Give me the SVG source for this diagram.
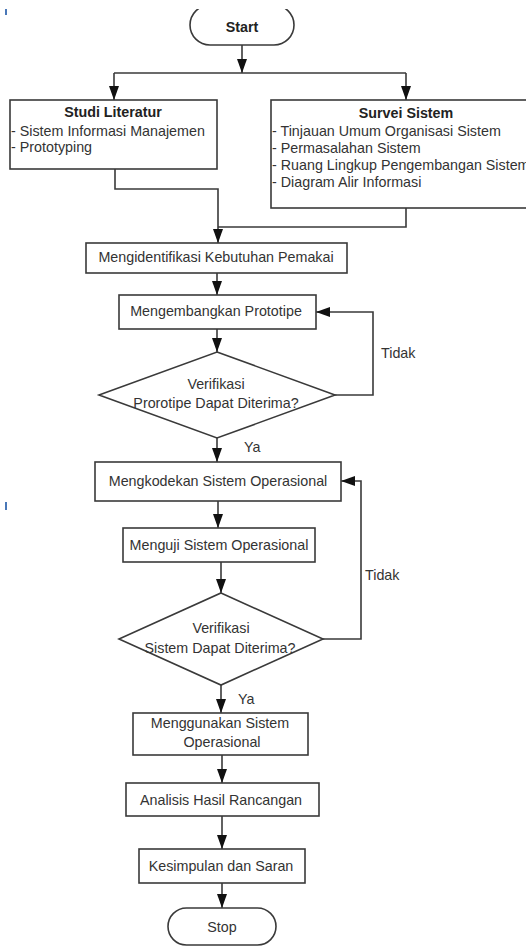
<svg xmlns="http://www.w3.org/2000/svg" width="526" height="947" viewBox="0 0 526 947">
<style>
.box{fill:#fff;stroke:#3a3a3a;stroke-width:1.6}
.ln{fill:none;stroke:#3a3a3a;stroke-width:1.6}
.t{font-family:"Liberation Sans",Arial,sans-serif;font-size:14.3px;fill:#333}
.c{text-anchor:middle}
.b{font-weight:bold;fill:#222}
.mk{fill:#4a78b8}
</style>
<defs>
<marker id="ah" viewBox="0 0 14 10" markerUnits="userSpaceOnUse" markerWidth="14" markerHeight="10" refX="14" refY="5" orient="auto">
<path d="M0,0 L14,5 L0,10 z" fill="#111"/>
</marker>
<clipPath id="topclip"><rect x="0" y="9" width="526" height="938"/></clipPath>
</defs>
<rect width="526" height="947" fill="#fff"/>
<g id="marks">
<rect class="mk" x="5" y="9" width="2" height="6"/>
<rect class="mk" x="268" y="9" width="8" height="4"/>
<rect class="mk" x="5" y="502" width="2" height="8"/>
</g>
<g id="connectors">
<path class="ln" d="M242 45 V73" marker-end="url(#ah)"/>
<path class="ln" d="M114 73 H406"/>
<path class="ln" d="M114 73 V100" marker-end="url(#ah)"/>
<path class="ln" d="M406 73 V100" marker-end="url(#ah)"/>
<path class="ln" d="M115 169 V189 H218 V243" marker-end="url(#ah)"/>
<path class="ln" d="M406 208 V227 H218"/>
<path class="ln" d="M217 273 V295" marker-end="url(#ah)"/>
<path class="ln" d="M217 329 V352" marker-end="url(#ah)"/>
<path class="ln" d="M335 395 H373 V312 H316" marker-end="url(#ah)"/>
<path class="ln" d="M217 438 V462" marker-end="url(#ah)"/>
<path class="ln" d="M218 501 V528" marker-end="url(#ah)"/>
<path class="ln" d="M221 562 V593" marker-end="url(#ah)"/>
<path class="ln" d="M323 639 H361 V481 H341" marker-end="url(#ah)"/>
<path class="ln" d="M221 685 V713" marker-end="url(#ah)"/>
<path class="ln" d="M222 755 V783" marker-end="url(#ah)"/>
<path class="ln" d="M222 816 V849" marker-end="url(#ah)"/>
<path class="ln" d="M222 883 V908" marker-end="url(#ah)"/>
<text class="t" x="381" y="358">Tidak</text>
<text class="t" x="244" y="452">Ya</text>
<text class="t" x="365" y="580">Tidak</text>
<text class="t" x="238" y="704">Ya</text>
</g>
<g id="start">
<rect class="box" x="190" y="5" width="104" height="40" rx="20" clip-path="url(#topclip)"/>
<text class="t c b" x="242" y="32">Start</text>
</g>
<g id="studi">
<rect class="box" x="10" y="100" width="207" height="69"/>
<text class="t c b" x="113" y="117">Studi Literatur</text>
<text class="t" x="11" y="136">- Sistem Informasi Manajemen</text>
<text class="t" x="11" y="152">- Prototyping</text>
</g>
<g id="survei">
<rect class="box" x="271" y="100" width="280" height="108"/>
<text class="t c b" x="406" y="118">Survei Sistem</text>
<text class="t" x="272" y="136">- Tinjauan Umum Organisasi Sistem</text>
<text class="t" x="272" y="153">- Permasalahan Sistem</text>
<text class="t" x="272" y="170">- Ruang Lingkup Pengembangan Sistem</text>
<text class="t" x="272" y="187">- Diagram Alir Informasi</text>
</g>
<g id="identifikasi">
<rect class="box" x="86" y="243" width="261" height="30"/>
<text class="t c" x="216" y="262">Mengidentifikasi Kebutuhan Pemakai</text>
</g>
<g id="kembang">
<rect class="box" x="119" y="295" width="197" height="34"/>
<text class="t c" x="216" y="316">Mengembangkan Prototipe</text>
</g>
<g id="verif1">
<polygon class="box" points="217,352 335,395 217,438 99,395"/>
<text class="t c" x="216" y="389">Verifikasi</text>
<text class="t c" x="216" y="408">Prorotipe Dapat Diterima?</text>
</g>
<g id="kode">
<rect class="box" x="95" y="462" width="246" height="39"/>
<text class="t c" x="218" y="486">Mengkodekan Sistem Operasional</text>
</g>
<g id="uji">
<rect class="box" x="123" y="528" width="192" height="34"/>
<text class="t c" x="219" y="550">Menguji Sistem Operasional</text>
</g>
<g id="verif2">
<polygon class="box" points="221,593 323,639 221,685 119,639"/>
<text class="t c" x="221" y="633">Verifikasi</text>
<text class="t c" x="220" y="653">Sistem Dapat Diterima?</text>
</g>
<g id="gunakan">
<rect class="box" x="133" y="713" width="175" height="42"/>
<text class="t c" x="220" y="728">Menggunakan Sistem</text>
<text class="t c" x="222" y="747">Operasional</text>
</g>
<g id="analisis">
<rect class="box" x="126" y="783" width="193" height="33"/>
<text class="t c" x="221" y="805">Analisis Hasil Rancangan</text>
</g>
<g id="kesimpulan">
<rect class="box" x="139" y="849" width="166" height="34"/>
<text class="t c" x="221" y="871">Kesimpulan dan Saran</text>
</g>
<g id="stop">
<rect class="box" x="168" y="908" width="108" height="37" rx="18.5"/>
<text class="t c" x="222" y="932">Stop</text>
</g>
</svg>
